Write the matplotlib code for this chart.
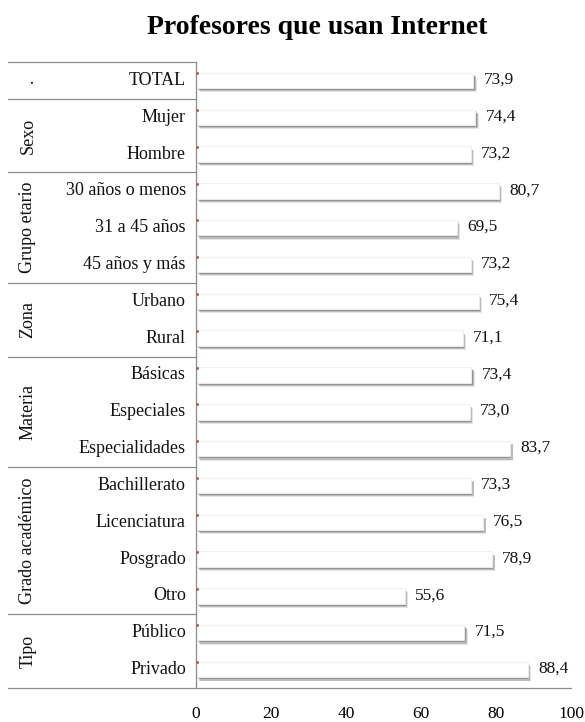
import matplotlib
matplotlib.use("Agg")
import matplotlib.pyplot as plt
import matplotlib.patheffects as pe
from matplotlib.transforms import blended_transform_factory

plt.rcParams['font.family'] = ['Liberation Serif', 'DejaVu Serif']

# Data
groups = [".", "Sexo", "Grupo etario", "Zona", "Materia", "Grado académico", "Tipo"]
group_sizes = [1, 2, 3, 2, 3, 4, 2]
categories = ["TOTAL", "Mujer", "Hombre", "30 años o menos", "31 a 45 años",
              "45 años y más", "Urbano", "Rural", "Básicas", "Especiales",
              "Especialidades", "Bachillerato", "Licenciatura", "Posgrado",
              "Otro", "Público", "Privado"]
values = [73.9, 74.4, 73.2, 80.7, 69.5, 73.2, 75.4, 71.1, 73.4, 73.0,
          83.7, 73.3, 76.5, 78.9, 55.6, 71.5, 88.4]
x_ticks = [0, 20, 40, 60, 80, 100]

FS = 12.5
FS_CAT = 13
W, H = 585, 722
fig = plt.figure(figsize=(W / 100, H / 100), dpi=100)
left, right, top, bottom = 196, 571, 62, 688
ax = fig.add_axes([left / W, 1 - bottom / H, (right - left) / W, (bottom - top) / H])

n = len(categories)
ypos = list(range(n))
ax.set_xlim(0, 100)
ax.set_ylim(n - 0.5, -0.5)

# white bars with a soft drop shadow
shadow = [
    pe.SimplePatchShadow(offset=(2.6, -3.0), shadow_rgbFace='#000000', alpha=0.10),
    pe.SimplePatchShadow(offset=(1.9, -2.3), shadow_rgbFace='#000000', alpha=0.18),
    pe.SimplePatchShadow(offset=(1.1, -1.4), shadow_rgbFace='#000000', alpha=0.2),
    pe.Normal(),
]
bars = ax.barh(ypos, values, height=0.42, color='white', edgecolor='#eeeeee',
               linewidth=0.6)
for b in bars:
    b.set_path_effects(shadow)

for y, v in zip(ypos, values):
    ax.annotate(f"{v:.1f}".replace(".", ","), (v, y), xytext=(7.5, 0.5),
                textcoords='offset points', ha='left', va='center',
                fontsize=FS, color='#111111')

# small marks at the top-left of each bar
ax.plot([0.25] * n, [y - 0.2 for y in ypos], linestyle='none', marker='s',
        markersize=1.0, color='#a06060', clip_on=False, zorder=5)

# axes styling
for s in ['top', 'right', 'bottom']:
    ax.spines[s].set_visible(False)
ax.spines['left'].set_color('#8c8c8c')
ax.spines['left'].set_linewidth(0.9)
ax.set_yticks([])
ax.set_xticks(x_ticks)
ax.set_xticklabels([str(t) for t in x_ticks], fontsize=FS)
ax.tick_params(axis='x', length=0, pad=13)

trans = blended_transform_factory(ax.transAxes, ax.transData)
lx = (8 - left) / (right - left)

# category labels
for y, c in zip(ypos, categories):
    ax.text(-0.027, y, c, transform=trans, ha='right', va='center',
            fontsize=FS_CAT, color='#111111')

# group separators and group labels
start = 0
bounds = [-0.5]
gx = (28 - left) / (right - left)
for g, size in zip(groups, group_sizes):
    mid = start + (size - 1) / 2
    ax.text(gx, mid, g, transform=trans, rotation=90, ha='center',
            va='center', fontsize=FS_CAT, color='#111111')
    start += size
    bounds.append(start - 0.5)
for i, yb in enumerate(bounds):
    x1 = 1.0 if i == len(bounds) - 1 else 0.0
    ax.plot([lx, x1], [yb, yb], transform=trans, color='#8c8c8c', lw=0.9,
            clip_on=False)

fig.text(317 / W, 1 - 27 / H, "Profesores que usan Internet", ha='center',
         va='center', fontsize=20, fontweight='bold')

fig.savefig("out.png", dpi=100)
